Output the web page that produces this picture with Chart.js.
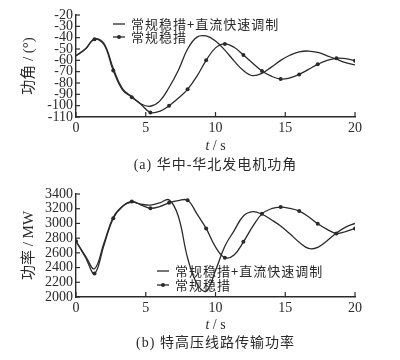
<!DOCTYPE html>
<html lang="zh-CN">
<head>
<meta charset="UTF-8">
<title>功角与传输功率</title>
<script src="https://cdn.jsdelivr.net/npm/chart.js"></script>
<style>
    body { margin: 0; background: #fff; }
    .wrap { position: relative; width: 400px; height: 360px; }
    canvas { position: absolute; left: 0; }
    #chartA { top: 0; }
    #chartB { top: 179px; }
</style>
</head>
<body>
<div class="wrap">
    <canvas id="chartA" width="400" height="180"></canvas>
    <canvas id="chartB" width="400" height="181"></canvas>
</div>
<script>
    // time axis (s)
    const times = [0, 0.67, 1.33, 2, 2.67, 3.33, 4, 4.67, 5.33, 6, 6.67, 7.33, 8, 8.67, 9.33, 10,
        10.67, 11.33, 12, 12.67, 13.33, 14, 14.67, 15.33, 16, 16.67, 17.33, 18, 18.67, 19.33, 20];

    // (a) power angle, degrees
    const angleWithDc = [-56, -50, -41, -45, -67, -85, -92, -98.5, -100.5, -96, -84, -69, -50, -39.5, -38.5, -43,
        -51, -60.5, -69, -73.5, -71.5, -66, -60, -55.5, -52.5, -51.8, -53, -56, -59, -62, -64];
    const angleNormal = [-56, -50, -41.5, -46, -69, -86, -92.6, -99, -106, -105, -100, -93.5, -85.6, -74, -60, -49,
        -45.5, -48.5, -55.3, -62.5, -69.4, -74, -76.5, -75.5, -72.4, -68, -63.5, -60, -58.2, -58.5, -60.3];

    // (b) transmitted power, MW
    const powerWithDc = [2757, 2560, 2385, 2730, 3085, 3235, 3290, 3262, 3250, 3280, 3320, 3100, 2530, 2180, 2080, 2360,
        2690, 2900, 3100, 3160, 3125, 3050, 2965, 2860, 2745, 2660, 2675, 2765, 2870, 2950, 3000];
    const powerNormal = [2757, 2540, 2320, 2700, 3069, 3230, 3298, 3250, 3207, 3230, 3280, 3310, 3315, 3130, 2932, 2680,
        2535, 2570, 2750, 2960, 3130, 3200, 3222, 3205, 3168, 3090, 2995, 2920, 2863, 2890, 2932];

    const labelFast = '常规稳措+直流快速调制';
    const labelNormal = '常规稳措';

    const serif = '"Liberation Serif", "Noto Sans CJK SC", serif';
    const ink = '#2a2a2a';

    function pts(values) {
        return times.map(function (t, i) { return { x: t, y: values[i] }; });
    }

    // inward ticks, legend inside the plot, x title and caption
    const extras = {
        id: 'extras',
        afterDraw: function (chart, args, o) {
            const ctx = chart.ctx;
            const xs = chart.scales.x;
            const ys = chart.scales.y;
            ctx.save();
            ctx.strokeStyle = ink;
            ctx.lineWidth = 1.2;
            xs.ticks.forEach(function (t) {
                const px = xs.getPixelForValue(t.value);
                ctx.beginPath(); ctx.moveTo(px, xs.top); ctx.lineTo(px, xs.top - 5); ctx.stroke();
            });
            ys.ticks.forEach(function (t) {
                const py = ys.getPixelForValue(t.value);
                ctx.beginPath(); ctx.moveTo(ys.right, py); ctx.lineTo(ys.right + 4, py); ctx.stroke();
            });

            ctx.textBaseline = 'middle';
            ctx.fillStyle = ink;
            if ('letterSpacing' in ctx) ctx.letterSpacing = '1px';
            ctx.font = '13px "Noto Sans CJK SC", sans-serif';
            chart.data.datasets.forEach(function (d, i) {
                const y = o.legendY + i * o.legendGap;
                ctx.strokeStyle = d.borderColor;
                ctx.lineWidth = d.borderWidth;
                ctx.beginPath(); ctx.moveTo(o.legendX, y); ctx.lineTo(o.legendX + 12, y); ctx.stroke();
                if (d.legendMarker) {
                    ctx.beginPath(); ctx.arc(o.legendX + 6, y, 2, 0, Math.PI * 2); ctx.fill();
                }
                ctx.fillText(d.label, o.legendX + 18, y);
            });

            // t / s
            if ('letterSpacing' in ctx) ctx.letterSpacing = '0px';
            ctx.font = 'italic 14px "Liberation Serif", serif';
            const wT = ctx.measureText('t').width;
            ctx.font = '14px "Liberation Serif", serif';
            const wS = ctx.measureText(' / s').width;
            const x0 = (xs.left + xs.right) / 2 - (wT + wS) / 2;
            ctx.textAlign = 'left';
            ctx.font = 'italic 14px "Liberation Serif", serif';
            ctx.fillText('t', x0, o.axisTitleY);
            ctx.font = '14px "Liberation Serif", serif';
            ctx.fillText(' / s', x0 + wT, o.axisTitleY);

            // caption
            if ('letterSpacing' in ctx) ctx.letterSpacing = '1px';
            ctx.font = '14px ' + serif;
            ctx.textAlign = 'center';
            ctx.fillText(o.caption, (xs.left + xs.right) / 2, o.captionY);
            ctx.restore();
        }
    };

    function buildChart(id, fast, normal, yMin, yMax, yStep, yTitle, extra, markerAtStart) {
        return new Chart(document.getElementById(id), {
            type: 'line',
            data: {
                datasets: [{
                    label: labelFast,
                    data: pts(fast),
                    borderColor: ink,
                    borderWidth: 1.3,
                    pointRadius: 0,
                    tension: 0.4,
                    legendMarker: false
                }, {
                    label: labelNormal,
                    data: pts(normal),
                    borderColor: ink,
                    backgroundColor: ink,
                    borderWidth: 1.3,
                    pointRadius: function (c) {
                        const i = c.dataIndex;
                        return (i % 2 === 0 && (i > 0 || markerAtStart)) ? 2 : 0;
                    },
                    pointBorderWidth: 0,
                    tension: 0.4,
                    legendMarker: true
                }]
            },
            options: {
                responsive: false,
                animation: false,
                devicePixelRatio: 1,
                layout: { padding: { left: 0, right: 45, top: 15, bottom: 0 } },
                plugins: {
                    legend: { display: false },
                    tooltip: { enabled: false },
                    extras: extra
                },
                scales: {
                    x: {
                        type: 'linear',
                        min: 0,
                        max: 20,
                        ticks: { stepSize: 5, autoSkip: false, color: ink, padding: 3, font: { family: serif, size: 14 } },
                        grid: { display: false, drawTicks: false },
                        border: { display: true, color: ink, width: 1.4 },
                        afterFit: function (s) { s.height = 63; }
                    },
                    y: {
                        min: yMin,
                        max: yMax,
                        ticks: {
                            stepSize: yStep,
                            autoSkip: false,
                            color: ink,
                            padding: 3,
                            font: { family: serif, size: 14, lineHeight: 1 },
                            callback: function (v) { return String(v); }
                        },
                        grid: { display: false, drawTicks: false },
                        border: { display: true, color: ink, width: 1.4 },
                        title: {
                            display: true,
                            text: yTitle,
                            color: ink,
                            padding: { top: 20, bottom: 0 },
                            font: { family: serif, size: 15 }
                        },
                        afterFit: function (s) { s.width = 76; }
                    }
                }
            },
            plugins: [extras]
        });
    }

    buildChart('chartA', angleWithDc, angleNormal, -110, -20, 10, '功角 / (°)', {
        legendX: 113, legendY: 24, legendGap: 13,
        axisTitleY: 146, caption: '(a) 华中-华北发电机功角', captionY: 165
    }, false);

    buildChart('chartB', powerWithDc, powerNormal, 2000, 3400, 200, '功率 / MW', {
        legendX: 157, legendY: 92, legendGap: 14,
        axisTitleY: 146, caption: '(b) 特高压线路传输功率', captionY: 164
    }, true);
</script>
</body>
</html>
